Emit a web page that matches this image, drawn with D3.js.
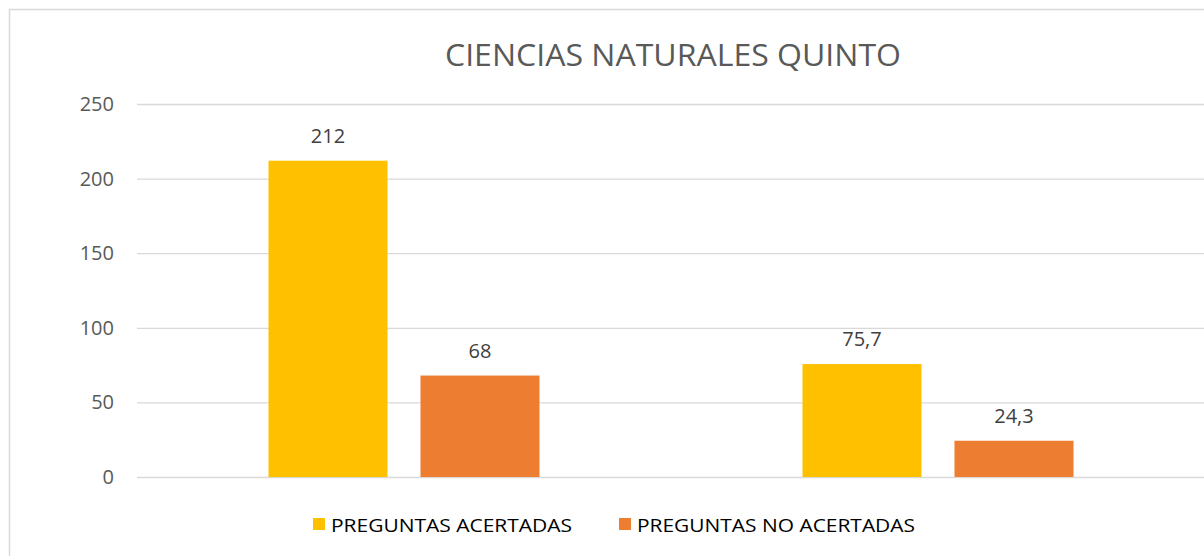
<!DOCTYPE html>
<html><head><meta charset="utf-8">
<script src="https://cdn.jsdelivr.net/npm/d3@7"></script>
<style>html,body{margin:0;padding:0;background:#fff;overflow:hidden}</style>
</head><body>
<svg id="c" width="1204" height="556"></svg>
<script>
const title = "CIENCIAS NATURALES QUINTO";
const categories = ["Cantidad", "Porcentaje"];
const series = ["PREGUNTAS ACERTADAS", "PREGUNTAS NO ACERTADAS"];
const acertadas = [212, 75.7];
const noAcertadas = [68, 24.3];
const yTicks = [0, 50, 100, 150, 200, 250];
const colors = ["#FFC000", "#ED7D31"];

const svg = d3.select("#c");
const font = "'Open Sans', sans-serif";
svg.append("rect").attr("x", 9.5).attr("y", 9.5).attr("width", 1300).attr("height", 700)
  .attr("fill", "#fff").attr("stroke", "#d9d9d9").attr("stroke-width", 1.5);

const y = d3.scaleLinear().domain([0, 250]).range([477, 104]);
const x0 = d3.scaleBand().domain(categories).range([137, 1205]).paddingInner(0.4925).paddingOuter(0.24625);
const x1 = d3.scaleBand().domain(series).range([0, x0.bandwidth()]).paddingInner(0.217);

const yAxis = d3.axisLeft(y).tickValues(yTicks).tickSize(-(1204 - 137)).tickPadding(23);
const gy = svg.append("g").attr("transform", "translate(137,0)").call(yAxis);
gy.select(".domain").remove();
gy.selectAll(".tick line").attr("stroke", "#d9d9d9").attr("stroke-width", 1.3);
gy.selectAll(".tick text").attr("fill", "#595959").style("font-family", font).style("font-size", "20px");

const data = categories.map((c, i) => ({cat: c, vals: [acertadas[i], noAcertadas[i]]}));
const g = svg.append("g").selectAll("g").data(data).join("g")
  .attr("transform", d => `translate(${x0(d.cat)},0)`);
g.selectAll("rect").data(d => d.vals.map((v, j) => ({s: series[j], v, j}))).join("rect")
  .attr("x", d => x1(d.s)).attr("width", x1.bandwidth())
  .attr("y", d => y(d.v)).attr("height", d => y(0) - y(d.v))
  .attr("fill", d => colors[d.j]);
g.selectAll("text").data(d => d.vals.map((v, j) => ({s: series[j], v, j}))).join("text")
  .attr("x", d => x1(d.s) + x1.bandwidth() / 2).attr("y", d => y(d.v) - 18)
  .attr("text-anchor", "middle").attr("fill", "#404040")
  .style("font-family", font).style("font-size", "20px")
  .text(d => String(d.v).replace(".", ","));

svg.append("text").attr("x", 673).attr("y", 66).attr("text-anchor", "middle")
  .attr("fill", "#595959").style("font-family", font).style("font-size", "31px")
  .attr("textLength", 456).attr("lengthAdjust", "spacingAndGlyphs").text(title);

const legX = [313, 619], legW = [241, 278];
series.forEach((s, i) => {
  svg.append("rect").attr("x", legX[i]).attr("y", 518).attr("width", 12).attr("height", 12).attr("fill", colors[i]);
  svg.append("text").attr("x", legX[i] + 18).attr("y", 531.5).attr("fill", "#000")
    .style("font-family", font).style("font-size", "19px")
    .attr("textLength", legW[i]).attr("lengthAdjust", "spacingAndGlyphs").text(s);
});
</script>
</body></html>
